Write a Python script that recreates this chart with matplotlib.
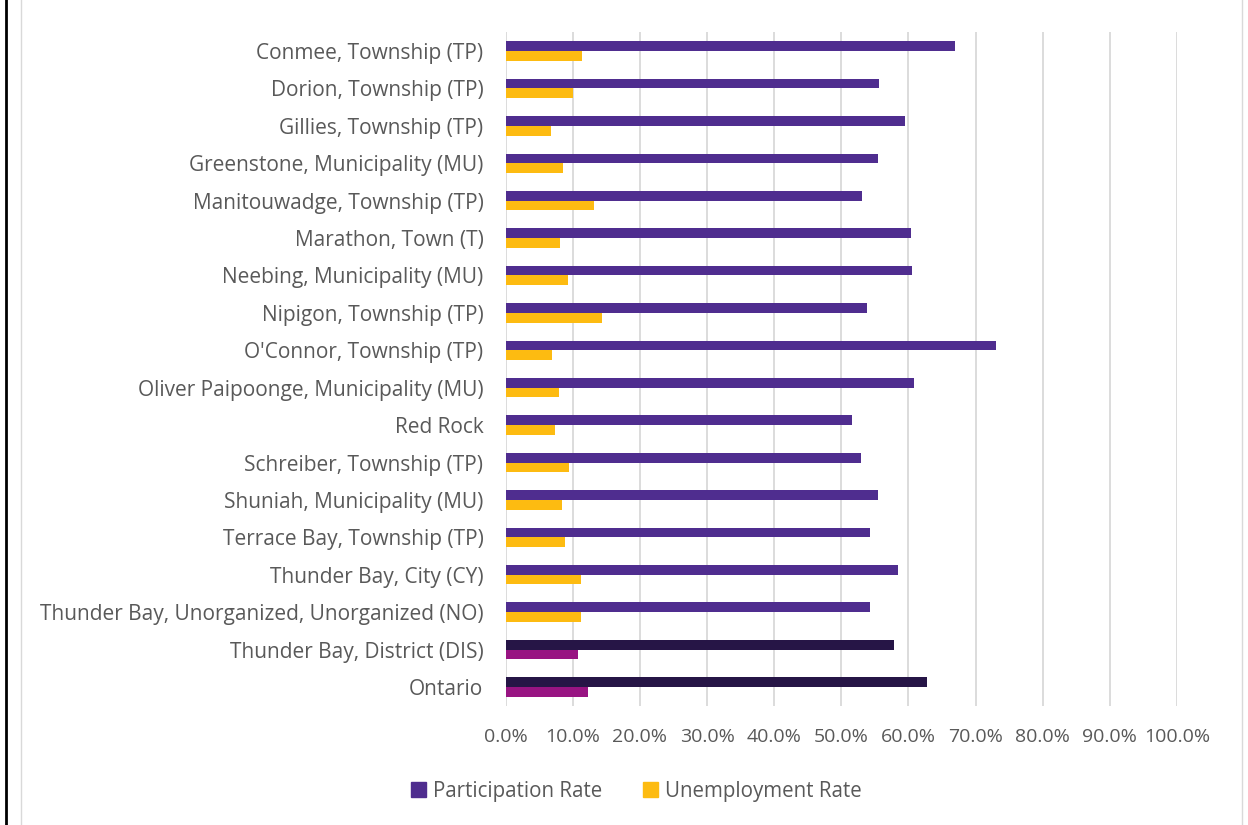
import matplotlib
matplotlib.use("Agg")
import matplotlib.pyplot as plt
import numpy as np
from matplotlib.patches import Patch
from matplotlib.ticker import FuncFormatter
from matplotlib.lines import Line2D

categories = [
    "Conmee, Township (TP)",
    "Dorion, Township (TP)",
    "Gillies, Township (TP)",
    "Greenstone, Municipality (MU)",
    "Manitouwadge, Township (TP)",
    "Marathon, Town (T)",
    "Neebing, Municipality (MU)",
    "Nipigon, Township (TP)",
    "O'Connor, Township (TP)",
    "Oliver Paipoonge, Municipality (MU)",
    "Red Rock",
    "Schreiber, Township (TP)",
    "Shuniah, Municipality (MU)",
    "Terrace Bay, Township (TP)",
    "Thunder Bay, City (CY)",
    "Thunder Bay, Unorganized, Unorganized (NO)",
    "Thunder Bay, District (DIS)",
    "Ontario",
]
participation = [66.9, 55.6, 59.5, 55.4, 53.1, 60.4, 60.6, 53.8, 73.1, 60.8,
                 51.6, 53.0, 55.5, 54.3, 58.5, 54.3, 57.8, 62.8]
unemployment = [11.4, 10.0, 6.8, 8.6, 13.1, 8.1, 9.3, 14.3, 6.9, 7.9,
                7.3, 9.5, 8.4, 8.9, 11.2, 11.2, 10.7, 12.2]
x_ticks = [0, 10, 20, 30, 40, 50, 60, 70, 80, 90, 100]

PURPLE = "#4F2D8F"
YELLOW = "#FDBB11"
DARK = "#261546"
MAGENTA = "#981482"
TEXT = "#595959"

n = len(categories)
p_colors = [PURPLE] * (n - 2) + [DARK, DARK]
u_colors = [YELLOW] * (n - 2) + [MAGENTA, MAGENTA]

plt.rcParams['font.family'] = ['Open Sans', 'DejaVu Sans']

fig = plt.figure(figsize=(12.48, 8.25), dpi=100)
ax = fig.add_axes([0.4052, 0.1446, 0.9431 - 0.4052, 0.9608 - 0.1446])

y = np.arange(n)
h = 0.26
ax.barh(y - h / 2, [v / 100 for v in participation], height=h, color=p_colors, zorder=3)
ax.barh(y + h / 2, [v / 100 for v in unemployment], height=h, color=u_colors, zorder=3)

ax.set_ylim(n - 0.5, -0.5)
ax.set_xlim(0, 1.0)
ax.set_yticks(y)
ax.set_yticklabels(categories, fontsize=15, color=TEXT)
ax.set_xticks([t / 100 for t in x_ticks])
ax.xaxis.set_major_formatter(FuncFormatter(lambda v, p: f"{v*100:.1f}%"))
ax.tick_params(axis='x', labelsize=14, colors=TEXT, length=0, pad=16)
ax.tick_params(axis='y', length=0, pad=16)
ax.grid(axis='x', color="#D9D9D9", linewidth=1.3, zorder=0)
for s in ax.spines.values():
    s.set_visible(False)

handles = [Patch(color=PURPLE, label="Participation Rate"),
           Patch(color=YELLOW, label="Unemployment Rate")]
fig.legend(handles=handles, loc='center', bbox_to_anchor=(0.51, 0.041), ncol=2,
           frameon=False, fontsize=14.8, labelcolor=TEXT, handlelength=0.7,
           handleheight=0.7, handletextpad=0.35, columnspacing=2.0)

# frame lines
fig.add_artist(Line2D([5.5 / 1248, 5.5 / 1248], [0, 1], color="black", linewidth=2))
fig.add_artist(Line2D([21 / 1248, 21 / 1248], [0, 1], color="#D9D9D9", linewidth=1))
fig.add_artist(Line2D([1242 / 1248, 1242 / 1248], [0, 1], color="#D9D9D9", linewidth=1))

fig.savefig("out.png", dpi=100)
